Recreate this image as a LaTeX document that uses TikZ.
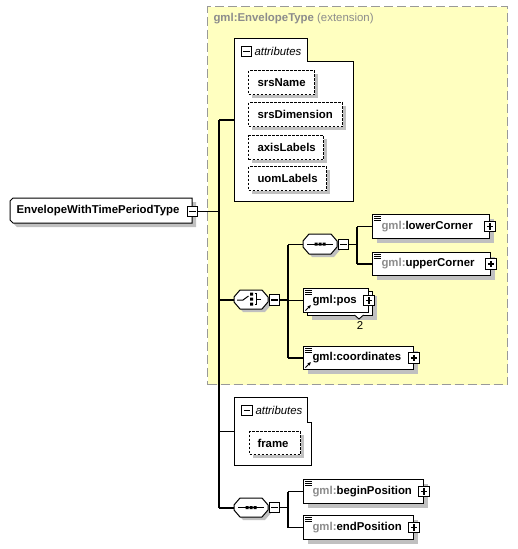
\documentclass[tikz,border=0pt]{standalone}
\usepackage{fontspec}
\setmainfont{Liberation Sans}
\usetikzlibrary{shadows,arrows.meta,calc}
\definecolor{ybg}{HTML}{FFFFC0}
\definecolor{sgray}{HTML}{C0C0C0}
\definecolor{tgray}{HTML}{8C8C8C}
\definecolor{dgray}{HTML}{999999}
\newcommand\gml{\textcolor{tgray}{gml:}}
% octagon compositor outline with shadow: x1 y1 x2 y2
\newcommand\octshape[4]{%
  \begin{scope}[shift={(3,3)}]
    \fill[sgray] (#1+6,#2) -- (#3-6,#2) -- (#3,#2+7) -- (#3,#4-7) -- (#3-6,#4) -- (#1+6,#4) -- (#1,#4-7) -- (#1,#2+7) -- cycle;
  \end{scope}
  \draw[fill=white] (#1+6,#2) -- (#3-6,#2) -- (#3,#2+7) -- (#3,#4-7) -- (#3-6,#4) -- (#1+6,#4) -- (#1,#4-7) -- (#1,#2+7) -- cycle;}
% element icons
\newcommand\eqicon[1]{%
  \foreach \d in {2,4,6}{\draw[line width=0.8pt] ([xshift=2pt,yshift=-\d pt]#1.north west) -- ++(7,0);}}
\newcommand\reficon[1]{%
  \draw[line width=1pt,-{Latex[length=3.5pt,width=3.5pt]}] ([xshift=2.5pt,yshift=2.5pt]#1.south west) -- ++(5.5,-5.5);}
\begin{document}
\begin{tikzpicture}[x=1pt,y=-1pt,line width=1pt,
  font=\fontsize{11.4pt}{13pt}\selectfont,
  elbase/.style={draw, fill=white, anchor=north west, inner sep=0, align=left,
    font=\fontsize{11.4pt}{13pt}\selectfont\bfseries},
  el/.style={elbase, minimum height=24,
    drop shadow={shadow xshift=4pt, shadow yshift=-4pt, fill=sgray, opacity=1}},
  att/.style={elbase, minimum height=24, dash pattern=on 2.5pt off 1.5pt,
    drop shadow={shadow xshift=3.5pt, shadow yshift=-3.5pt, fill=sgray, opacity=1}},
  pm/.style={draw, fill=white, line width=1.3pt, minimum size=10.5, inner sep=0},
  plusbox/.style={pm, path picture={\draw[line width=1.2pt]
      ([xshift=2pt]path picture bounding box.west) -- ([xshift=-2pt]path picture bounding box.east)
      ([yshift=-2pt]path picture bounding box.north) -- ([yshift=2pt]path picture bounding box.south);}},
  minusbox/.style={pm, path picture={\draw[line width=1.2pt]
      ([xshift=2pt]path picture bounding box.west) -- ([xshift=-2pt]path picture bounding box.east);}},
  ghost/.style={anchor=north west, inner sep=0},
  conn/.style={line width=1.1pt},
  atitle/.style={anchor=west, inner sep=0, font=\fontsize{11.4pt}{13pt}\selectfont\itshape},
]
\useasboundingbox (0,0) rectangle (518,549);

% extension region
\node[ghost, draw=dgray, line width=1.1pt, dash pattern=on 9pt off 4pt, fill=ybg, minimum width=300, minimum height=378] (ext) at (207,6) {};
\node[anchor=west, inner sep=0, text=tgray] (exttitle) at (213,19) {\bfseries gml:EnvelopeType \mdseries(extension)};

% main element
\fill[sgray] (14,205) -- (17,202) -- (196,202) -- (196,227) -- (17,227) -- (14,224) -- cycle;
\draw[fill=white] (10,201) -- (13,198) -- (192,198) -- (192,223) -- (13,223) -- (10,220) -- cycle;
\node[ghost, text width=182, minimum height=25, align=left, font=\fontsize{11.4pt}{13pt}\selectfont\bfseries] (main) at (10,198) {\hspace*{6pt}EnvelopeWithTimePeriodType};
\node[minusbox] (mainm) at (192.5,211.5) {};

% attributes group 1
\draw[fill=white] (234,38) -- (307,38) -- (307,61) -- (353,61) -- (353,201) -- (234,201) -- cycle;
\node[ghost, minimum width=119, minimum height=163] (attrs1) at (234,38) {};
\node[minusbox] (a1m) at (246.5,51.5) {};
\node[atitle] (a1t) at (254,51) {attributes};
\node[att, text width=66] (srsName) at (248,70) {\hspace*{9pt}srsName};
\node[att, text width=94] (srsDim) at (248,102) {\hspace*{9pt}srsDimension};
\node[att, text width=75] (axisL) at (248,135) {\hspace*{9pt}axisLabels};
\node[att, text width=78] (uomL) at (248,166) {\hspace*{9pt}uomLabels};

% choice compositor
\octshape{234}{290}{268}{309}
\node[ghost, minimum width=34, minimum height=19] (choice) at (234,290) {};
\draw (237,300) -- (243,300) -- (248.5,296);
\fill (250,292.5) rectangle (253,295.5) (250,297.5) rectangle (253,300.5) (250,302.5) rectangle (253,305.5);
\draw (254.5,293.5) -- (256.5,293.5) -- (256.5,304.5) -- (254.5,304.5) (256.5,299.5) -- (261,299.5);
\node[minusbox] (choicem) at (274.5,300) {};

% sequence compositor (corners)
\octshape{303}{234}{337}{254}
\node[ghost, minimum width=34, minimum height=20] (seq1) at (303,234) {};
\draw (307,244) -- (333,244);
\fill (314.5,242.5) rectangle (317.5,245.5) (318.5,242.5) rectangle (321.5,245.5) (322.5,242.5) rectangle (325.5,245.5);
\node[minusbox] (seq1m) at (343.5,244.5) {};

\node[el, text width=117] (lower) at (372,214) {\hspace*{9pt}\gml lowerCorner};
\eqicon{lower}
\node[plusbox] (lowerp) at (lower.east) {};
\node[el, text width=118, minimum height=23] (upper) at (372,252) {\hspace*{9pt}\gml upperCorner};
\eqicon{upper}
\node[plusbox] (upperp) at (upper.east) {};

% pos (stacked)
\node[el, text width=65, minimum height=24] (posback) at (307,291) {};
\node[elbase, text width=65, minimum height=24] (pos) at (303,288) {\hspace*{9pt}gml:pos};
\eqicon{pos}
\reficon{pos}
\node[plusbox] (posp) at (pos.east) {};
\draw[fill=white, line width=0.9pt] (354.5,315) -- (359,319) -- (363.5,315);
\node[inner sep=0, font=\fontsize{11.4pt}{13pt}\selectfont] (posmax) at (360,325.5) {2};

% coordinates
\node[el, text width=110, minimum height=23] (coords) at (303,346) {\hspace*{9pt}gml:coordinates};
\eqicon{coords}
\reficon{coords}
\node[plusbox] (coordsp) at (coords.east) {};

% attributes group 2
\draw[fill=white] (234,397) -- (307,397) -- (307,422) -- (311,422) -- (311,465) -- (234,465) -- cycle;
\node[ghost, minimum width=77, minimum height=68] (attrs2) at (234,397) {};
\node[minusbox] (a2m) at (247,410.5) {};
\node[atitle] (a2t) at (255,410) {attributes};
\node[att, text width=51, minimum height=23] (frame) at (249,431) {\hspace*{8pt}frame};

% sequence compositor (time)
\octshape{234}{498}{268}{517}
\node[ghost, minimum width=34, minimum height=19] (seq2) at (234,498) {};
\draw (238,507.5) -- (264,507.5);
\fill (245.5,506) rectangle (248.5,509) (249.5,506) rectangle (252.5,509) (253.5,506) rectangle (256.5,509);
\node[minusbox] (seq2m) at (274.5,507.5) {};

\node[el, text width=120] (begin) at (303,479) {\hspace*{9pt}\gml beginPosition};
\eqicon{begin}
\node[plusbox] (beginp) at (begin.east) {};
\node[el, text width=110] (endp) at (303,515) {\hspace*{9pt}\gml endPosition};
\eqicon{endp}
\node[plusbox] (endpp) at (endp.east) {};

% connectors
\coordinate (j0) at (219,211.5);
\coordinate (j1) at (288,300);
\coordinate (j2) at (357,244.5);
\coordinate (j3) at (288,507.5);
\draw[conn] (mainm.east) -- (j0);
\draw[conn] (j0 |- attrs1.west) -- (j0 |- seq2.west);
\draw[conn] (j0 |- attrs1.west) -- (attrs1.west);
\draw[conn] (j0 |- choice.west) -- (choice.west);
\draw[conn] (j0 |- attrs2.west) -- (attrs2.west);
\draw[conn] (j0 |- seq2.west) -- (seq2.west);

\draw[conn] (choicem.east) -- (j1);
\draw[conn] (j1 |- seq1.west) -- (j1 |- coords.west);
\draw[conn] (j1 |- seq1.west) -- (seq1.west);
\draw[conn] (j1 |- pos.west) -- (pos.west);
\draw[conn] (j1 |- coords.west) -- (coords.west);

\draw[conn] (seq1m.east) -- (j2);
\draw[conn] (j2 |- lower.west) -- (j2 |- upper.west);
\draw[conn] (j2 |- lower.west) -- (lower.west);
\draw[conn] (j2 |- upper.west) -- (upper.west);

\draw[conn] (seq2m.east) -- (j3);
\draw[conn] (j3 |- begin.west) -- (j3 |- endp.west);
\draw[conn] (j3 |- begin.west) -- (begin.west);
\draw[conn] (j3 |- endp.west) -- (endp.west);
\end{tikzpicture}
\end{document}
